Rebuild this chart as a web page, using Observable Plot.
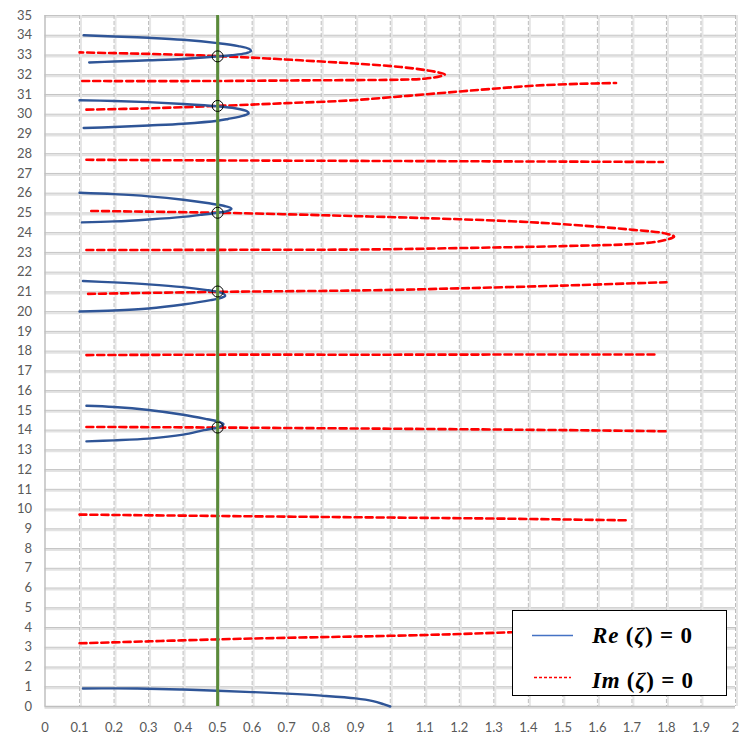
<!DOCTYPE html>
<html>
<head>
<meta charset="utf-8">
<script src="https://cdn.jsdelivr.net/npm/d3@7"></script>
<script src="https://cdn.jsdelivr.net/npm/@observablehq/plot@0.6"></script>
<style>
  body { margin: 0; background: white; }
  #wrap { position: relative; width: 739px; height: 736px; }
  #legend { position: absolute; left: 512px; top: 610px; width: 215px; height: 86px; box-sizing: border-box; border: 1.5px solid #000; background: #fff; }
</style>
</head>
<body>
<div id="wrap">
  <div id="chart"></div>
  <div id="legend">
    <svg width="213" height="83" style="display:block">
      <line x1="19" y1="24.5" x2="60" y2="24.5" stroke="#4472C4" stroke-width="1.6"></line>
      <text x="79" y="31.5" font-family="Liberation Serif" font-weight="bold" font-size="23" fill="#000" textLength="100" lengthAdjust="spacing"><tspan font-style="italic">Re</tspan> (<tspan font-style="italic">ζ</tspan>) = 0</text>
      <line x1="21" y1="66.5" x2="58" y2="66.5" stroke="#FF0000" stroke-width="1.6" stroke-dasharray="3,2"></line>
      <text x="79" y="76.5" font-family="Liberation Serif" font-weight="bold" font-size="23" fill="#000" textLength="101" lengthAdjust="spacing"><tspan font-style="italic">Im</tspan> (<tspan font-style="italic">ζ</tspan>) = 0</text>
    </svg>
  </div>
</div>
<script>
// Tick values
const xTicks = [0,0.1,0.2,0.3,0.4,0.5,0.6,0.7,0.8,0.9,1,1.1,1.2,1.3,1.4,1.5,1.6,1.7,1.8,1.9,2];
const yTicks = [0,1,2,3,4,5,6,7,8,9,10,11,12,13,14,15,16,17,18,19,20,21,22,23,24,25,26,27,28,29,30,31,32,33,34,35];

// Re(zeta) = 0 curves  [sigma, t]
const re1 = [[0.11,0.91],[0.2,0.92],[0.3,0.9],[0.4,0.86],[0.5,0.8],[0.6,0.73],[0.7,0.65],[0.8,0.55],[0.9,0.41],[0.95,0.27],[0.98,0.12],[1.0,0]];
const re2 = [[0.12,15.23],[0.2,15.17],[0.3,15.02],[0.4,14.78],[0.47,14.55],[0.505,14.42],[0.517,14.3],[0.51,14.2],[0.5,14.13],[0.46,14.0],[0.4,13.77],[0.3,13.57],[0.2,13.48],[0.12,13.43]];
const re3 = [[0.11,21.55],[0.2,21.48],[0.3,21.38],[0.4,21.24],[0.47,21.09],[0.5,21.0],[0.518,20.9],[0.522,20.8],[0.51,20.7],[0.48,20.58],[0.4,20.36],[0.3,20.16],[0.2,20.06],[0.1,20.01]];
const re4 = [[0.1,26.02],[0.2,25.95],[0.3,25.84],[0.4,25.67],[0.47,25.5],[0.52,25.35],[0.54,25.22],[0.53,25.1],[0.5,25.01],[0.45,24.9],[0.4,24.8],[0.3,24.67],[0.2,24.57],[0.107,24.52]];
const re5 = [[0.1,30.71],[0.2,30.67],[0.3,30.61],[0.4,30.52],[0.5,30.4],[0.55,30.3],[0.585,30.15],[0.59,30.05],[0.575,29.93],[0.53,29.76],[0.5,29.67],[0.4,29.52],[0.3,29.43],[0.2,29.35],[0.112,29.3]];
const re6 = [[0.112,34.0],[0.2,33.94],[0.3,33.87],[0.4,33.77],[0.5,33.6],[0.56,33.45],[0.592,33.3],[0.597,33.2],[0.58,33.08],[0.54,32.99],[0.5,32.93],[0.4,32.8],[0.3,32.73],[0.2,32.67],[0.128,32.62]];

// Im(zeta) = 0 curves
const im1 = [[0.1,3.2],[0.3,3.3],[0.5,3.4],[0.7,3.48],[1.0,3.58],[1.2,3.67],[1.35,3.76],[1.6,3.9],[1.8,4.0]];
const im2 = [[0.1,9.72],[0.5,9.65],[1.0,9.57],[1.3,9.52],[1.686,9.43]];
const im3 = [[0.12,14.16],[0.5,14.13],[1.0,14.07],[1.5,14.0],[1.8,13.94]];
const im4 = [[0.12,17.8],[0.5,17.82],[1.0,17.82],[1.5,17.83],[1.765,17.83]];
const im5 = [[0.125,20.9],[0.5,21.0],[0.94,21.08],[1.2,21.18],[1.5,21.32],[1.8,21.49]];
const im6 = [[0.12,23.12],[0.5,23.13],[0.94,23.15],[1.2,23.22],[1.5,23.32],[1.714,23.44],[1.79,23.6],[1.822,23.8],[1.8,23.95],[1.7,24.15],[1.5,24.43],[1.35,24.58],[1.2,24.68],[0.94,24.82],[0.5,25.01],[0.134,25.1]];
const im7 = [[0.12,27.69],[0.5,27.66],[1.0,27.63],[1.5,27.6],[1.79,27.58]];
const im8 = [[0.12,30.23],[0.3,30.3],[0.5,30.42],[0.7,30.56],[0.884,30.7],[1.05,30.93],[1.2,31.15],[1.32,31.32],[1.42,31.45],[1.55,31.54],[1.654,31.58]];
const im9 = [[0.108,31.68],[0.45,31.68],[0.8,31.72],[1.03,31.75],[1.1,31.8],[1.145,31.92],[1.158,32.02],[1.13,32.15],[1.03,32.39],[0.74,32.73],[0.45,32.98],[0.1,33.13]];

// Zeros on the critical line
const zeros = [[0.5,14.13],[0.5,21.02],[0.5,25.01],[0.5,30.42],[0.5,32.93]];
const criticalLine = 0.5;

const reCurves = [re1, re2, re3, re4, re5, re6];
const imCurves = [im1, im2, im3, im4, im5, im6, im7, im8, im9];

const marks = [
  // horizontal grid
  Plot.ruleY(yTicks, {stroke: "#e3e3e3", strokeWidth: 2, dy: 1.5}),
  Plot.ruleY(yTicks, {stroke: "#c4c4c4", strokeWidth: 1}),
  // vertical grid
  Plot.ruleX(xTicks.slice(1), {stroke: "#e6e6e6", strokeWidth: 2, dx: 1.5}),
  Plot.ruleX(xTicks.slice(1), {stroke: "#bdbdbd", strokeWidth: 1, strokeDasharray: "4,2"}),
  Plot.ruleX([0], {stroke: "#bfbfbf", strokeWidth: 1.5}),
  Plot.ruleY([0], {stroke: "#bfbfbf", strokeWidth: 1.5}),
  Plot.axisX({ticks: xTicks, tickSize: 0, tickPadding: 16, tickFormat: d => String(+d.toFixed(1)), fontSize: 13, fill: "#595959"}),
  Plot.axisY({ticks: yTicks, tickSize: 0, tickPadding: 13, fontSize: 13, fill: "#595959"}),
];
for (const c of imCurves) {
  marks.push(Plot.line(c, {x: d => d[0], y: d => d[1], stroke: "#FF0000", strokeWidth: 2.6, strokeDasharray: "7,4", curve: "catmull-rom"}));
}
for (const c of reCurves) {
  marks.push(Plot.line(c, {x: d => d[0], y: d => d[1], stroke: "#2F5597", strokeWidth: 2.4, curve: "catmull-rom"}));
}
marks.push(Plot.ruleX([criticalLine], {y1: 0, y2: 35, stroke: "#5A8A3A", strokeWidth: 3}));
marks.push(Plot.dot(zeros, {x: d => d[0], y: d => d[1], r: 5.5, stroke: "#000", strokeWidth: 1, fill: "none"}));

const chart = Plot.plot({
  width: 739,
  height: 736,
  marginLeft: 44.5,
  marginRight: 4,
  marginTop: 15,
  marginBottom: 30,
  x: {domain: [0, 2], axis: null},
  y: {domain: [0, 35], axis: null},
  style: {fontFamily: "Lato, 'Noto Sans', sans-serif", fontSize: "13px", background: "white", overflow: "visible"},
  marks
});
document.getElementById("chart").appendChild(chart);
</script>
</body>
</html>
